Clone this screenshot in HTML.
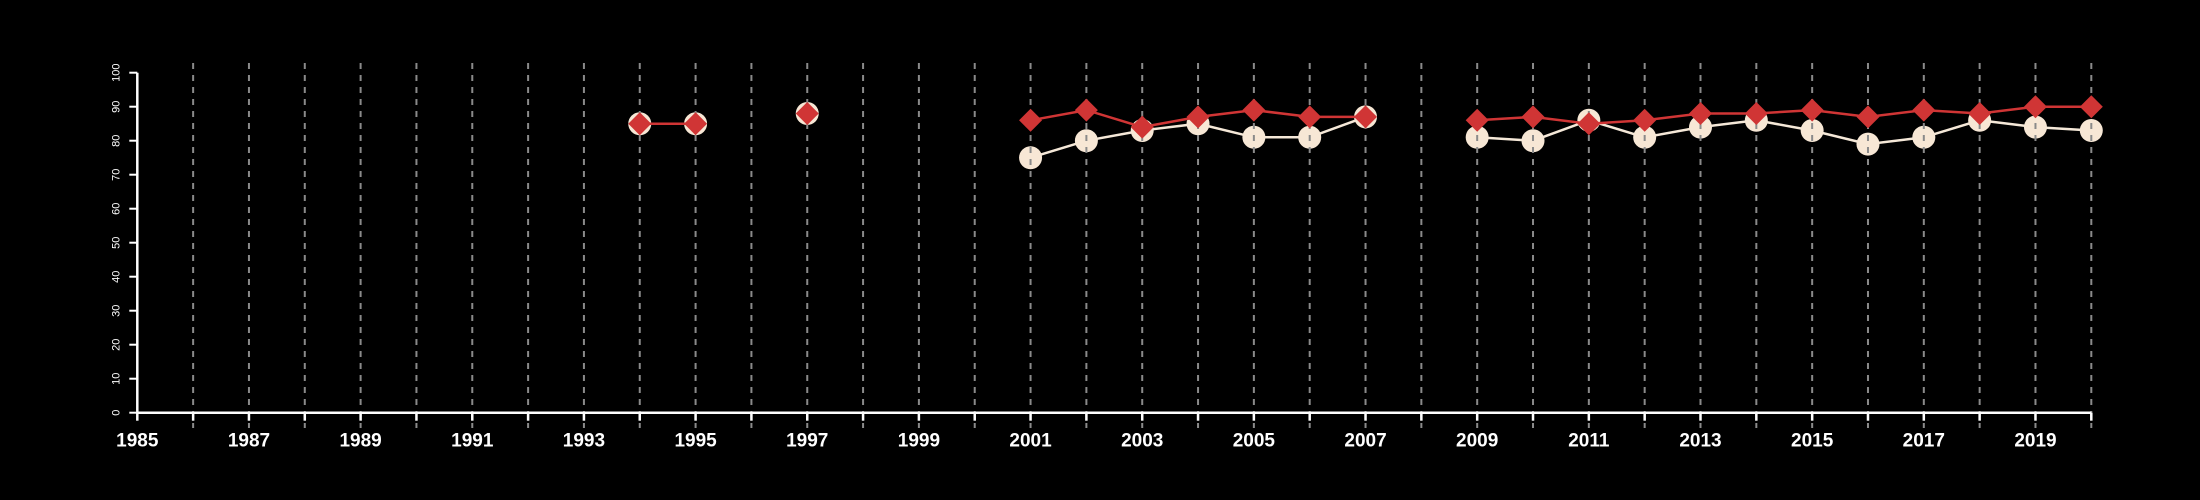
<!DOCTYPE html>
<html><head><meta charset="utf-8"><style>
html,body{margin:0;padding:0;background:#000;}
svg{display:block;font-family:"Liberation Sans",sans-serif;}
</style></head><body>
<svg id="chart" width="2200" height="500" viewBox="0 0 2200 500" xmlns="http://www.w3.org/2000/svg">
<rect width="2200" height="500" fill="#000"/>
<g id="g-white"></g>
<g id="g-grid"></g>
<g id="g-red"></g>
<g id="g-axes"></g>
</svg>
<script>
const years = [1994,1995,1996,1997,1998,1999,2000,2001,2002,2003,2004,2005,2006,2007,2008,2009,2010,2011,2012,2013,2014,2015,2016,2017,2018,2019,2020];
const whiteVals = [85,85,null,88,null,null,null,75,80,83,85,81,81,87,null,81,80,86,81,84,86,83,79,81,86,84,83];
const redVals = [85,85,null,88,null,null,null,86,89,84,87,89,87,87,null,86,87,85,86,88,88,89,87,89,88,90,90];
const xTickLabels = [1985,1987,1989,1991,1993,1995,1997,1999,2001,2003,2005,2007,2009,2011,2013,2015,2017,2019];
const yTickLabels = [0,10,20,30,40,50,60,70,80,90,100];

const NS="http://www.w3.org/2000/svg";
const x0=137.3,x1=2091.3,y0=412.7,y1=72.7;
const xs=v=>x0+(v-1985)*(x1-x0)/35;
const ys=v=>y0-(v)*(y0-y1)/100;
function mk(tag,parent,attrs){const e=document.createElementNS(NS,tag);for(const k in attrs)e.setAttribute(k,attrs[k]);parent.appendChild(e);return e;}
const gW=document.getElementById('g-white'),gG=document.getElementById('g-grid'),gR=document.getElementById('g-red'),gA=document.getElementById('g-axes');

function segs(vals){const out=[];let cur=[];years.forEach((y,i)=>{if(vals[i]==null){if(cur.length)out.push(cur);cur=[];}else cur.push([xs(y),ys(vals[i])]);});if(cur.length)out.push(cur);return out;}

segs(whiteVals).forEach(s=>{if(s.length>1){const p=mk('polyline',gW,{points:s.map(p=>p.join(',')).join(' '),fill:'none',stroke:'#f5e8d8','stroke-width':2.5});

}});
years.forEach((y,i)=>{if(whiteVals[i]==null)return;const c=mk('circle',gW,{cx:xs(y),cy:ys(whiteVals[i]),r:11.5,fill:'#f7e7d5'});

});

for(let y=1986;y<=2020;y++){const l=mk('line',gG,{x1:xs(y),x2:xs(y),y1:63,y2:428,stroke:'#8a8a8a','stroke-width':2,'stroke-dasharray':'6,6'});

}

segs(redVals).forEach(s=>{if(s.length>1){const p=mk('polyline',gR,{points:s.map(p=>p.join(',')).join(' '),fill:'none',stroke:'#d03535','stroke-width':2.5});

}});
years.forEach((y,i)=>{if(redVals[i]==null)return;const cx=xs(y),cy=ys(redVals[i]),d=11.5;const p=mk('polygon',gR,{points:`${cx},${cy-d} ${cx+d},${cy} ${cx},${cy+d} ${cx-d},${cy}`,fill:'#d03535'});

});

let ax=mk('line',gA,{x1:x0,x2:x1,y1:y0,y2:y0,stroke:'#fff','stroke-width':2.5});


let ay=mk('line',gA,{x1:x0,x2:x0,y1:y0,y2:y1,stroke:'#fff','stroke-width':2.5});


for(let y=1985;y<=2020;y++){const t=mk('line',gA,{x1:xs(y),x2:xs(y),y1:y0,y2:y0+8,stroke:'#fff','stroke-width':2.5});

}
xTickLabels.forEach(v=>{const t=mk('text',gA,{x:xs(v),y:y0+34,fill:'#fff','font-size':19,'font-weight':'bold','text-anchor':'middle'});t.textContent=v;

});
yTickLabels.forEach(v=>{const yy=ys(v);const t=mk('line',gA,{x1:x0-8,x2:x0,y1:yy,y2:yy,stroke:'#fff','stroke-width':2});


const l=mk('text',gA,{x:0,y:0,fill:'#fff','font-size':11,'text-anchor':'middle',transform:`translate(${x0-18},${yy}) rotate(-90)`});l.textContent=v;

});
</script>
</body></html>
